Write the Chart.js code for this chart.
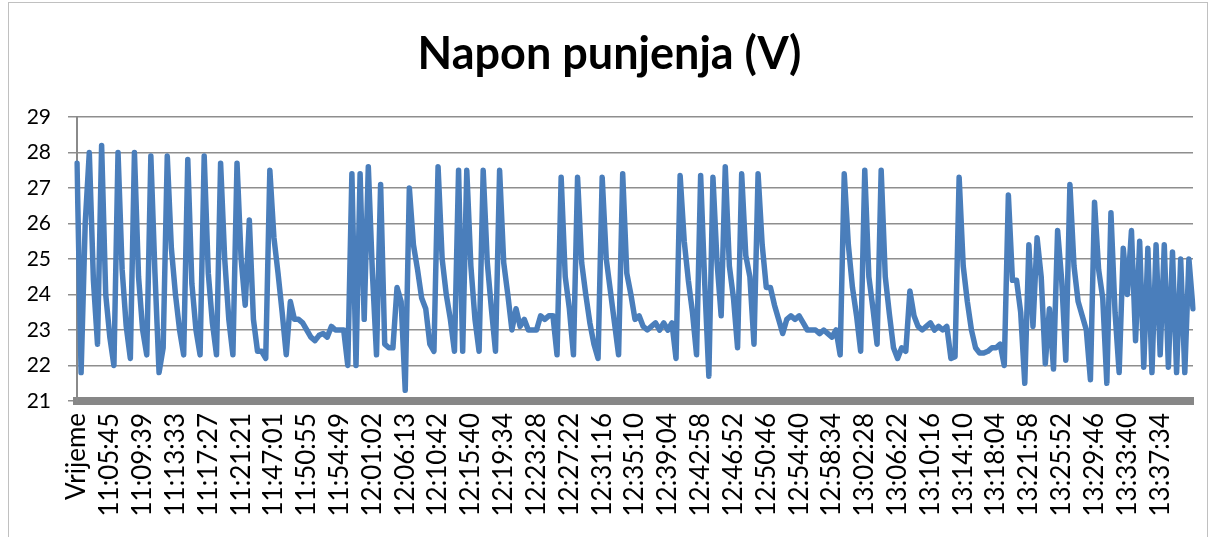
<!DOCTYPE html>
<html>
<head>
<meta charset="utf-8">
<script src="https://cdn.jsdelivr.net/npm/chart.js@4/dist/chart.umd.min.js"></script>
<style>
  body { margin: 0; background: #fff; }
  #wrap { width: 1217px; height: 537px; }
</style>
</head>
<body>
<div id="wrap"><canvas id="chart-napon"></canvas></div>
<script>
// oznake na osi x (svaka 8. točka)
const oznake = [
    "Vrijeme", "11:05:45", "11:09:39", "11:13:33", "11:17:27", "11:21:21",
    "11:47:01", "11:50:55", "11:54:49", "12:01:02", "12:06:13", "12:10:42",
    "12:15:40", "12:19:34", "12:23:28", "12:27:22", "12:31:16", "12:35:10",
    "12:39:04", "12:42:58", "12:46:52", "12:50:46", "12:54:40", "12:58:34",
    "13:02:28", "13:06:22", "13:10:16", "13:14:10", "13:18:04", "13:21:58",
    "13:25:52", "13:29:46", "13:33:40", "13:37:34",
];
const KORAK = 8;

// napon punjenja (V), 8 očitanja po oznaci
const napon = [
    27.7, 21.8, 26.0, 28.0, 24.4, 22.6, 28.2, 24.0,
    22.8, 22.0, 28.0, 24.7, 23.1, 22.2, 28.0, 24.5,
    23.0, 22.3, 27.9, 24.6, 21.8, 22.5, 27.9, 25.3,
    24.0, 23.0, 22.3, 27.8, 24.3, 23.0, 22.3, 27.9,
    24.6, 23.2, 22.3, 27.7, 25.0, 23.3, 22.3, 27.7,
    25.0, 23.7, 26.1, 23.3, 22.4, 22.4, 22.2, 27.5,
    25.6, 24.6, 23.5, 22.3, 23.8, 23.3, 23.3, 23.2,
    23.0, 22.8, 22.7, 22.85, 22.9, 22.8, 23.1, 23.0,
    23.0, 23.0, 22.0, 27.4, 22.0, 27.4, 23.3, 27.6,
    24.6, 22.3, 27.1, 22.6, 22.5, 22.5, 24.2, 23.8,
    21.3, 27.0, 25.4, 24.7, 23.9, 23.6, 22.6, 22.4,
    27.6, 25.0, 24.0, 23.3, 22.4, 27.5, 22.4, 27.5,
    24.8, 23.3, 22.4, 27.5, 24.9, 23.6, 22.4, 27.5,
    24.9, 24.0, 23.0, 23.6, 23.1, 23.3, 23.0, 23.0,
    23.0, 23.4, 23.3, 23.4, 23.4, 22.3, 27.3, 24.5,
    23.6, 22.3, 27.3, 24.9, 24.0, 23.2, 22.6, 22.2,
    27.3, 25.0, 24.1, 23.2, 22.3, 27.4, 24.6, 24.0,
    23.3, 23.4, 23.1, 23.0, 23.1, 23.2, 23.0, 23.2,
    23.0, 23.2, 22.2, 27.35, 25.5, 24.4, 23.5, 22.3,
    27.35, 24.3, 21.7, 27.3, 24.9, 23.4, 27.6, 24.8,
    23.9, 22.5, 27.4, 25.1, 24.5, 22.6, 27.4, 25.4,
    24.2, 24.2, 23.7, 23.3, 22.9, 23.3, 23.4, 23.3,
    23.4, 23.2, 23.0, 23.0, 23.0, 22.9, 23.0, 22.9,
    22.8, 23.0, 22.3, 27.4, 25.4, 24.2, 23.4, 22.4,
    27.5, 24.5, 23.6, 22.6, 27.5, 24.5, 23.45, 22.5,
    22.2, 22.5, 22.4, 24.1, 23.4, 23.1, 23.0, 23.1,
    23.2, 23.0, 23.1, 23.0, 23.1, 22.2, 22.25, 27.3,
    24.8, 23.8, 23.0, 22.5, 22.35, 22.35, 22.4, 22.5,
    22.5, 22.6, 22.0, 26.8, 24.4, 24.4, 23.5, 21.5,
    25.4, 23.1, 25.6, 24.5, 22.05, 23.6, 21.9, 25.8,
    24.4, 22.15, 27.1, 24.8, 23.8, 23.4, 23.0, 21.6,
    26.6, 24.7, 23.9, 21.5, 26.3, 23.5, 21.8, 25.3,
    24.0, 25.8, 22.7, 25.5, 21.95, 25.3, 21.8, 25.4,
    22.3, 25.4, 21.95, 25.2, 21.8, 25.0, 21.8, 25.0,
    23.6,
];

const Y_MIN = 21;
const Y_MAX = 29;

const kategorije = napon.map((v, i) => (i % KORAK === 0 ? (oznake[i / KORAK] || "") : ""));

const okvir = {
    id: "okvir",
    afterDraw(chart) {
        const ctx = chart.ctx;
        ctx.save();
        ctx.strokeStyle = "#c0c0c0";
        ctx.lineWidth = 1;
        ctx.strokeRect(8.5, 2.5, 1199, 560);
        ctx.restore();
    },
};

const ctx = document.getElementById("chart-napon").getContext("2d");
const chartNapon = new Chart(ctx, {
    type: "line",
    data: {
        labels: kategorije,
        datasets: [{
            label: "Napon punjenja (V)",
            data: napon,
            borderColor: "#4a7ebb",
            borderWidth: 5.5,
            pointRadius: 0,
            tension: 0,
            borderJoinStyle: "round",
            borderCapStyle: "round",
        }],
    },
    options: {
        responsive: true,
        maintainAspectRatio: false,
        animation: false,
        layout: { padding: { left: 26, right: 24, top: 0, bottom: 0 } },
        plugins: {
            legend: { display: false },
            tooltip: { enabled: false },
            title: {
                display: true,
                text: "Napon punjenja (V)",
                color: "#000",
                font: { family: "Lato", size: 45, weight: "bold" },
                padding: { top: 27, bottom: 36 },
            },
        },
        scales: {
            x: {
                grid: { display: false, drawTicks: false },
                border: { display: true, color: "#878787", width: 8 },
                ticks: {
                    autoSkip: false,
                    maxRotation: 90,
                    minRotation: 90,
                    padding: 12,
                    color: "#000",
                    font: { family: "Lato", size: 26 },
                },
                afterFit(scale) {
                    scale.height = 136;
                    scale.paddingLeft = 0;
                    scale.paddingRight = 0;
                },
            },
            y: {
                min: Y_MIN,
                max: Y_MAX,
                ticks: {
                    stepSize: 1,
                    padding: 17,
                    color: "#000",
                    font: { family: "Lato", size: 21 },
                },
                grid: { color: "#8e8e8e", lineWidth: 1.5, tickLength: 9 },
                border: { display: true, color: "#8a8a8a", width: 2 },
                afterFit(scale) { scale.width = 51; },
            },
        },
    },
    plugins: [okvir],
});
</script>
</body>
</html>
